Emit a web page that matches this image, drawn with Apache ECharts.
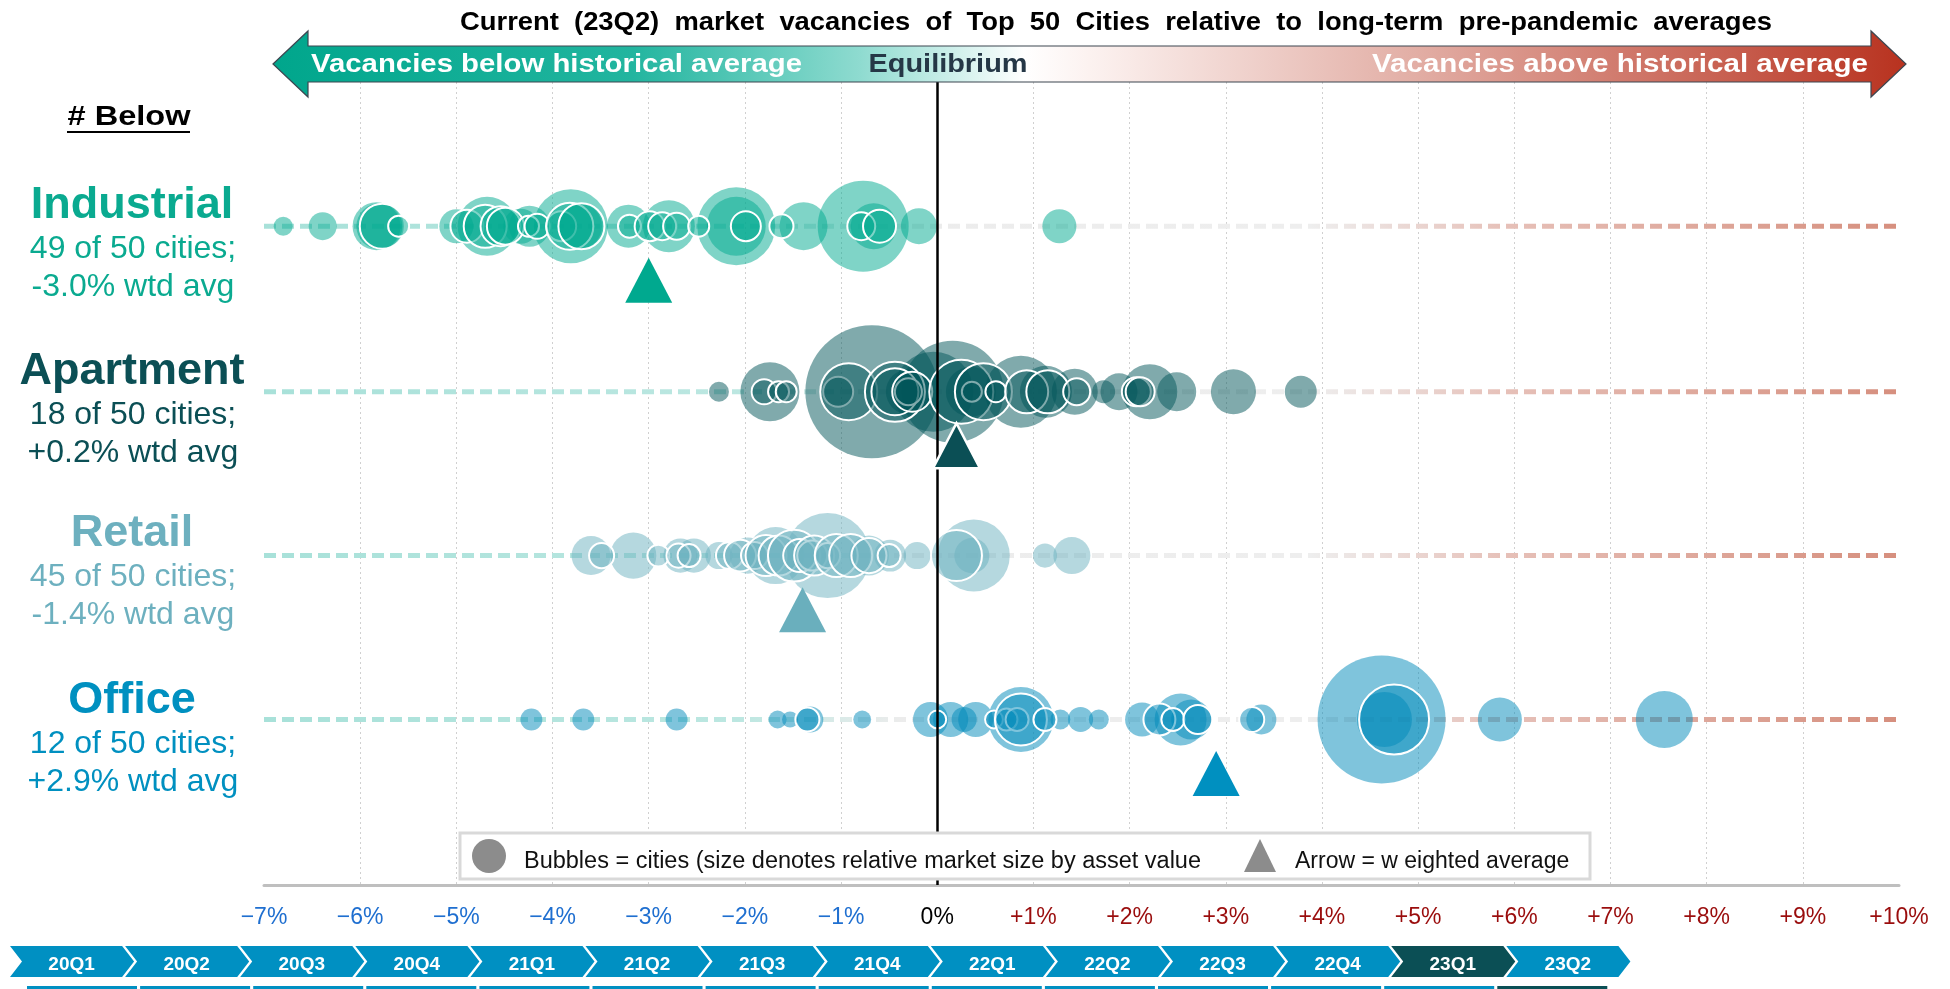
<!DOCTYPE html>
<html>
<head>
<meta charset="utf-8">
<title>Market vacancies vs pre-pandemic averages</title>
<script src="https://cdn.jsdelivr.net/npm/echarts@6/dist/echarts.min.js"></script>
<style>
    html, body { margin: 0; padding: 0; background: #fff; }
    #chart { width: 1950px; height: 989px; }
</style>
</head>
<body>
<div id="chart"></div>
<script>
// ---- data ----
const titleText = 'Current  (23Q2)  market  vacancies  of  Top  50  Cities  relative  to  long-term  pre-pandemic  averages';
const categories = ['Industrial', 'Apartment', 'Retail', 'Office'];
const citiesBelow = [49, 18, 45, 12];
const totalCities = 50;
const wtdAvg = [-3.0, 0.2, -1.4, 2.9];
const quarters = ['20Q1', '20Q2', '20Q3', '20Q4', '21Q1', '21Q2', '21Q3', '21Q4', '22Q1', '22Q2', '22Q3', '22Q4', '23Q1', '23Q2'];
const currentQuarter = '23Q1';

// [vacancy vs long-term avg (pp), relative market size by asset value]
const industrial = [
    [-6.80, 3.6], [-6.39, 7.8], [-5.83, 23.0], [-5.80, 21.2], [-5.00, 11.6], [-4.68, 34.8], [-4.33, 12.3],
    [-4.24, 16.8], [-3.81, 54.8], [-3.72, 20.3], [-3.21, 18.5], [-2.79, 27.0], [-2.09, 60.8], [-2.09, 34.8],
    [-1.39, 23.0], [-0.77, 82.8], [-0.66, 21.2], [-0.19, 13.0], [1.27, 11.6]
];
const industrialOutlined = [
    [-5.77, 20.3], [-5.60, 4.4], [-4.89, 10.9], [-4.70, 18.5], [-4.54, 16.0], [-4.49, 13.7], [-4.25, 4.4],
    [-4.16, 6.3], [-3.91, 9.0], [-3.82, 22.1], [-3.70, 21.2], [-3.20, 5.3], [-2.99, 9.0], [-2.86, 7.8],
    [-2.71, 7.3], [-2.48, 4.4], [-1.99, 9.0], [-1.62, 5.8], [-0.79, 7.8], [-0.60, 10.9]
];
const apartment = [
    [-2.27, 4.0], [-1.74, 34.8], [-0.68, 176.9], [-0.30, 20.3], [-0.04, 64.0], [0.16, 104.0], [0.35, 25.0],
    [0.87, 51.8], [1.13, 27.0], [1.43, 21.2], [1.73, 5.3], [1.89, 13.7], [2.21, 30.3], [2.49, 15.2],
    [3.08, 20.3], [3.78, 10.2]
];
const apartmentOutlined = [
    [-1.80, 6.3], [-1.65, 4.4], [-1.57, 4.4], [-1.03, 9.0], [-0.92, 32.5], [-0.44, 36.0], [-0.44, 22.1],
    [-0.30, 7.3], [-0.26, 16.0], [0.25, 41.0], [0.36, 4.0], [0.48, 32.5], [0.61, 4.4], [0.93, 18.5],
    [1.15, 18.5], [1.45, 7.3], [2.07, 8.4], [2.11, 8.4]
];
const retail = [
    [-3.60, 15.2], [-3.16, 21.2], [-2.67, 11.6], [-2.53, 11.6], [-2.27, 7.3], [-1.97, 13.0], [-1.68, 32.5],
    [-1.14, 72.3], [-0.71, 16.0], [-0.49, 10.2], [-0.21, 7.3], [0.38, 51.8], [0.36, 12.3], [1.12, 5.8], [1.40, 13.7]
];
const retailOutlined = [
    [-3.49, 6.3], [-2.90, 4.8], [-2.69, 5.8], [-2.58, 5.3], [-2.16, 7.3], [-2.05, 10.2], [-1.90, 7.3],
    [-1.78, 16.8], [-1.65, 16.0], [-1.49, 27.0], [-1.43, 10.9], [-1.30, 9.0], [-1.28, 16.0], [-1.14, 6.3],
    [-1.05, 18.5], [-0.90, 18.5], [-0.71, 12.3], [-0.50, 5.3], [0.20, 26.0]
];
const office = [
    [-4.22, 4.8], [-3.68, 4.8], [-2.71, 4.8], [-1.66, 3.2], [-1.53, 2.6], [-1.32, 6.8], [-0.78, 3.2],
    [-0.07, 12.3], [0.14, 12.3], [0.28, 6.3], [0.40, 12.3], [0.87, 42.3], [1.28, 4.0], [1.49, 6.3],
    [1.68, 4.0], [2.13, 11.6], [2.53, 27.0], [2.64, 16.0], [3.37, 9.0], [4.62, 163.8], [4.65, 30.3],
    [5.85, 19.4], [7.56, 32.5]
];
const officeOutlined = [
    [-1.35, 5.8], [0.00, 3.2], [0.59, 3.2], [0.72, 4.8], [0.83, 5.3], [0.87, 27.0], [1.12, 5.3],
    [2.31, 10.2], [2.45, 5.3], [2.71, 8.4], [3.27, 6.3], [4.75, 49.0]
];

// ---- layout / style ----
const FONT = '"Liberation Sans", Arial, sans-serif';
const catColors = ['#00a98f', '#015559', '#6bb1bf', '#0089b9'];
const textColors = ['#0aaa90', '#0b4f55', '#6db0bf', '#0090c0'];
const arrowColors = ['#00a98f', '#0b4f55', '#6aafbd', '#0090c0'];
const rowY = [4.02, 3.01, 2.01, 1.01]; // y position of each category row
const bubbleSets = [
    [industrial, industrialOutlined],
    [apartment, apartmentOutlined],
    [retail, retailOutlined],
    [office, officeOutlined]
];

const grid = { left: 264, right: 51, top: 82, bottom: 104 };
const plotL = grid.left, plotR = 1950 - grid.right;

function alpha(hex, a) {
    const n = parseInt(hex.slice(1), 16);
    return 'rgba(' + (n >> 16) + ',' + ((n >> 8) & 255) + ',' + (n & 255) + ',' + a + ')';
}

const measureCtx = document.createElement('canvas').getContext('2d');
function fitScale(text, font, width) {
    measureCtx.font = font;
    return width / measureCtx.measureText(text).width;
}

function textEl(text, x, y, font, fill, align, fitWidth) {
    return {
        type: 'text',
        x: x,
        y: y,
        z: 20,
        scaleX: fitWidth ? fitScale(text, font, fitWidth) : 1,
        silent: true,
        style: {
            text: text, font: font, fill: fill,
            align: align, textAlign: align,
            verticalAlign: 'middle', textVerticalAlign: 'middle'
        }
    };
}

const chart = echarts.init(document.getElementById('chart'));

// ---- series ----
const series = [];

// dashed guide line for each row
categories.forEach((c, i) => {
    series.push({
        type: 'line',
        data: [[-7, rowY[i]], [10, rowY[i]]],
        symbol: 'none',
        silent: true,
        z: 1,
        lineStyle: {
            width: 5,
            type: [12, 6],
            color: new echarts.graphic.LinearGradient(plotL, 0, plotR, 0, [
                { offset: 0, color: '#a8e1d9' },
                { offset: 0.29, color: '#bce7e1' },
                { offset: 0.39, color: '#ececec' },
                { offset: 0.64, color: '#eeeeee' },
                { offset: 0.76, color: '#e6c0b8' },
                { offset: 1, color: '#d68f7e' }
            ], true)
        }
    });
});

// equilibrium line
series.push({
    type: 'line',
    data: [],
    silent: true,
    z: 2,
    markLine: {
        silent: true,
        symbol: ['none', 'none'],
        label: { show: false },
        lineStyle: { color: '#000', width: 2.5, type: 'solid' },
        data: [{ xAxis: 0 }]
    }
});

// bubbles = cities
bubbleSets.forEach(([plain, outlined], i) => {
    const fill = alpha(catColors[i], 0.5);
    series.push({
        type: 'scatter',
        name: categories[i],
        data: plain.map(d => [d[0], rowY[i], d[1]]),
        symbolSize: v => Math.sqrt(v[2]) * 10,
        itemStyle: { color: fill, opacity: 1 },
        emphasis: { disabled: true },
        z: 3
    });
    series.push({
        type: 'scatter',
        name: categories[i] + ' outlined',
        data: outlined.map(d => [d[0], rowY[i], d[1]]),
        symbolSize: v => Math.sqrt(v[2]) * 10,
        itemStyle: { color: fill, opacity: 1, borderColor: '#fff', borderWidth: 2 },
        emphasis: { disabled: true },
        z: 4
    });
});

// arrows = weighted averages
series.push({
    type: 'scatter',
    symbol: 'triangle',
    symbolSize: [47, 45],
    emphasis: { disabled: true },
    z: 6,
    data: wtdAvg.map((v, i) => ({
        value: [v, rowY[i] - 0.33],
        itemStyle: i === 1
            ? { color: arrowColors[i], opacity: 1, borderColor: '#fff', borderWidth: 2.5 }
            : { color: arrowColors[i], opacity: 1 }
    }))
});

// ---- graphic decorations ----
const graphics = [];

// title
graphics.push(textEl(titleText, 1116, 23, 'bold 25px ' + FONT, '#000', 'center', 1312));

// double-headed gradient arrow
graphics.push({
    type: 'polygon',
    z: 15,
    silent: true,
    shape: {
        points: [[273, 64], [308, 31], [308, 46], [1871, 46], [1871, 31], [1906, 64],
            [1871, 97], [1871, 82], [308, 82], [308, 97]]
    },
    style: {
        fill: new echarts.graphic.LinearGradient(273, 0, 1906, 0, [
            { offset: 0, color: '#00a68c' },
            { offset: 0.22, color: '#22b59f' },
            { offset: 0.36, color: '#8fdbd0' },
            { offset: 0.46, color: '#ffffff' },
            { offset: 0.5, color: '#fcf2f0' },
            { offset: 0.7, color: '#e2aea5' },
            { offset: 1, color: '#b8321f' }
        ], true),
        stroke: '#3d4650',
        lineWidth: 1.2
    }
});
graphics.push(textEl('Vacancies below historical average', 311, 65, 'bold 26px ' + FONT, '#fff', 'left', 491));
graphics.push(textEl('Equilibrium', 948, 65, 'bold 26px ' + FONT, '#253746', 'center', 159));
graphics.push(textEl('Vacancies above historical average', 1868, 65, 'bold 26px ' + FONT, '#fff', 'right', 496));

// left labels
graphics.push(textEl('# Below', 129, 117, 'bold 28px ' + FONT, '#000', 'center', 123));
graphics.push({
    type: 'line', z: 20, silent: true,
    shape: { x1: 67, y1: 132, x2: 190, y2: 132 },
    style: { stroke: '#000', lineWidth: 2 }
});
const nameY = [206, 372, 534, 701];
categories.forEach((c, i) => {
    const sign = wtdAvg[i] > 0 ? '+' : wtdAvg[i] < 0 ? '-' : '';
    graphics.push(textEl(c, 132, nameY[i], 'bold 45px ' + FONT, textColors[i], 'center'));
    graphics.push(textEl(citiesBelow[i] + ' of ' + totalCities + ' cities;', 133, nameY[i] + 43, '32px ' + FONT, textColors[i], 'center'));
    graphics.push(textEl(sign + Math.abs(wtdAvg[i]).toFixed(1) + '% wtd avg', 133, nameY[i] + 81, '32px ' + FONT, textColors[i], 'center'));
});

// legend box
graphics.push({
    type: 'rect', z: 18, silent: true,
    shape: { x: 460, y: 833, width: 1130, height: 46 },
    style: { fill: '#fff', stroke: '#d9d9d9', lineWidth: 3 }
});
graphics.push({
    type: 'circle', z: 19, silent: true,
    shape: { cx: 489, cy: 856, r: 17 },
    style: { fill: '#8c8c8c' }
});
graphics.push(textEl('Bubbles = cities (size denotes relative market size by asset value', 524, 862, '23px ' + FONT, '#111', 'left', 677));
graphics.push({
    type: 'polygon', z: 19, silent: true,
    shape: { points: [[1260, 839], [1276, 872], [1244, 872]] },
    style: { fill: '#8c8c8c' }
});
graphics.push(textEl('Arrow = w eighted average', 1295, 862, '23px ' + FONT, '#111', 'left'));

// quarter timeline chevrons
const pitch = 115.1, tipW = 12, chevTop = 946, chevBottom = 977, chevMid = (chevTop + chevBottom) / 2;
quarters.forEach((q, i) => {
    const x0 = 10 + i * pitch, x1 = x0 + pitch - 3;
    const color = q === currentQuarter ? '#0b4f55' : '#0090c2';
    graphics.push({
        type: 'polygon', z: 10, silent: true,
        shape: {
            points: [[x0, chevTop], [x1, chevTop], [x1 + tipW, chevMid], [x1, chevBottom],
                [x0, chevBottom], [x0 + tipW, chevMid]]
        },
        style: { fill: color }
    });
    graphics.push(textEl(q, x0 + pitch / 2 + 4, chevMid + 3, 'bold 19px ' + FONT, '#fff', 'center'));
    // next row peeking out at the bottom edge
    graphics.push({
        type: 'rect', z: 10, silent: true,
        shape: { x: 27 + i * 113.1, y: 986, width: 110, height: 4 },
        style: { fill: i === quarters.length - 1 ? '#0b4f55' : '#0090c2' }
    });
});

// ---- options ----
const options = {
    animation: false,
    backgroundColor: '#fff',
    grid: grid,
    xAxis: {
        type: 'value',
        min: -7,
        max: 10,
        interval: 1,
        axisLine: { show: true, onZero: false, lineStyle: { color: '#bfbfbf', width: 3 } },
        axisTick: { show: false },
        splitLine: {
            show: true,
            showMinLine: false,
            showMaxLine: false,
            lineStyle: { type: [2, 3], color: '#d0d0d0', width: 1 }
        },
        axisLabel: {
            margin: 21,
            formatter: v => v < 0 ? '{n|\u2212' + (-v) + '%}' : v === 0 ? '{z|0%}' : '{p|+' + v + '%}',
            rich: {
                n: { color: '#1f6fd0', fontSize: 23, fontFamily: FONT },
                z: { color: '#000', fontSize: 23, fontFamily: FONT },
                p: { color: '#9a0d0d', fontSize: 23, fontFamily: FONT }
            }
        }
    },
    yAxis: { type: 'value', min: 0, max: 4.9, show: false },
    graphic: graphics,
    series: series
};

chart.setOption(options);
</script>
</body>
</html>
